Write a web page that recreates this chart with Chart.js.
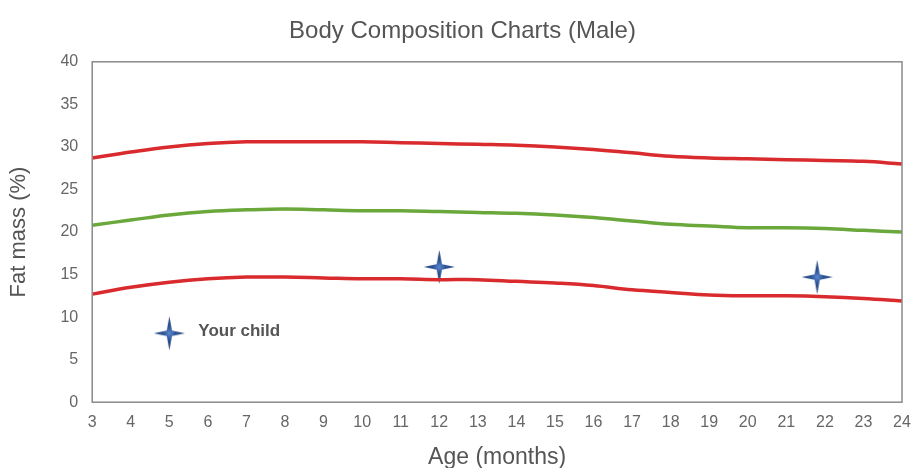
<!DOCTYPE html>
<html>
<head>
<meta charset="utf-8">
<script src="https://cdn.jsdelivr.net/npm/chart.js@4/dist/chart.umd.min.js"></script>
<style>
  html, body { margin: 0; padding: 0; background: #fff; }
  #wrap { width: 919px; height: 468px; }
</style>
</head>
<body>
<div id="wrap"><canvas id="grafico"></canvas></div>
<script>
// Datos
const meses = [3, 4, 5, 6, 7, 8, 9, 10, 11, 12, 13, 14, 15, 16, 17, 18, 19, 20, 21, 22, 23, 24];
const percentilSuperior = [28.7, 29.4, 30.0, 30.4, 30.6, 30.6, 30.6, 30.6, 30.5, 30.4, 30.3, 30.2, 30.0, 29.7, 29.3, 28.9, 28.7, 28.6, 28.5, 28.4, 28.3, 28.0];
const mediana = [20.8, 21.4, 22.0, 22.4, 22.6, 22.7, 22.6, 22.5, 22.5, 22.4, 22.3, 22.2, 22.0, 21.7, 21.3, 20.9, 20.7, 20.5, 20.5, 20.4, 20.2, 20.0];
const percentilInferior = [12.7, 13.5, 14.1, 14.5, 14.7, 14.7, 14.6, 14.5, 14.5, 14.4, 14.4, 14.2, 14.0, 13.7, 13.2, 12.9, 12.6, 12.5, 12.5, 12.4, 12.2, 11.9];
const mesesNino = [12, 21.8];
const valoresNino = [15.9, 14.7];
const leyendaPunto = [5, 8.1];
const leyendaTexto = 'Your child';

// Estrella de cuatro puntas para los puntos del niño
function crearEstrella(ancho, alto) {
    const c = document.createElement('canvas');
    c.width = ancho; c.height = alto;
    const g = c.getContext('2d');
    const cx = ancho / 2, cy = alto / 2;
    const rx = ancho / 2, ry = alto / 2, ri = ancho * 0.12;
    g.beginPath();
    for (let i = 0; i < 8; i++) {
        const ang = i * Math.PI / 4 - Math.PI / 2;
        const esPunta = i % 2 === 0;
        const px = esPunta ? rx : ri, py = esPunta ? ry : ri;
        g.lineTo(cx + px * Math.cos(ang), cy + py * Math.sin(ang));
    }
    g.closePath();
    const grad = g.createRadialGradient(cx, cy, 0, cx, cy, ry);
    grad.addColorStop(0, '#5a88d0');
    grad.addColorStop(0.35, '#2f5596');
    grad.addColorStop(1, '#1c3a70');
    g.fillStyle = grad;
    g.fill();
    return c;
}
const estrella = crearEstrella(31, 34);

const serie = (ys) => meses.map((m, i) => ({ x: m, y: ys[i] }));

// Marco del área del gráfico y texto de la leyenda
const marco = {
    id: 'marco',
    afterDraw(chart) {
        const { ctx, chartArea: a, scales } = chart;
        ctx.save();
        ctx.strokeStyle = '#8a8a8a';
        ctx.lineWidth = 1.5;
        ctx.strokeRect(a.left, a.top, a.right - a.left, a.bottom - a.top);
        ctx.fillStyle = '#555';
        ctx.font = 'bold 17px "Liberation Sans", Arial, sans-serif';
        ctx.textBaseline = 'middle';
        ctx.fillText(leyendaTexto, scales.x.getPixelForValue(leyendaPunto[0]) + 29, scales.y.getPixelForValue(leyendaPunto[1]) - 2);
        ctx.restore();
    }
};

const fuente = '"Liberation Sans", Arial, sans-serif';

new Chart(document.getElementById('grafico').getContext('2d'), {
    type: 'line',
    data: {
        datasets: [
            { label: 'Superior', data: serie(percentilSuperior), borderColor: '#d92a2e', borderWidth: 3.5, pointRadius: 0, tension: 0.4 },
            { label: 'Mediana', data: serie(mediana), borderColor: '#6aa83c', borderWidth: 3.5, pointRadius: 0, tension: 0.4 },
            { label: 'Inferior', data: serie(percentilInferior), borderColor: '#d92a2e', borderWidth: 3.5, pointRadius: 0, tension: 0.4 },
            {
                label: 'Niño', type: 'scatter',
                data: mesesNino.map((m, i) => ({ x: m, y: valoresNino[i] })),
                pointStyle: estrella, pointRadius: 16
            },
            {
                label: 'Leyenda', type: 'scatter',
                data: [{ x: leyendaPunto[0], y: leyendaPunto[1] }],
                pointStyle: estrella, pointRadius: 16
            }
        ]
    },
    options: {
        responsive: true,
        maintainAspectRatio: false,
        animation: false,
        layout: { padding: { top: 0, right: 0, left: 6, bottom: 0 } },
        plugins: {
            legend: { display: false },
            tooltip: { enabled: false },
            title: {
                display: true,
                text: 'Body Composition Charts (Male)',
                color: '#555',
                font: { family: fuente, size: 24, weight: 'normal' },
                padding: { top: 17, bottom: 16 }
            }
        },
        scales: {
            x: {
                type: 'linear',
                min: 3, max: 24,
                afterFit: (escala) => { escala.paddingRight = 13; },
                grid: { display: false, drawTicks: false },
                border: { display: false },
                ticks: { stepSize: 1, color: '#666', padding: 11, font: { family: fuente, size: 16 } },
                title: { display: true, text: 'Age (months)', color: '#555', font: { family: fuente, size: 23 }, padding: { top: 0, bottom: -3 } }
            },
            y: {
                min: 0, max: 40,
                grid: { display: false, drawTicks: false },
                border: { display: false },
                ticks: { stepSize: 5, color: '#666', padding: 14, font: { family: fuente, size: 16 } },
                title: { display: true, text: 'Fat mass (%)', color: '#555', font: { family: fuente, size: 22 }, padding: { top: 0, bottom: 14 } }
            }
        }
    },
    plugins: [marco]
});
</script>
</body>
</html>
